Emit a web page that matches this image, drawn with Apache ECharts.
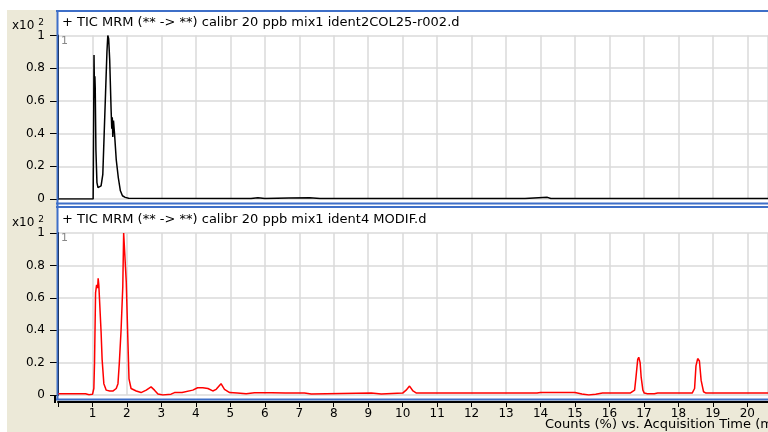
<!DOCTYPE html>
<html><head><meta charset="utf-8">
<script src="https://cdn.jsdelivr.net/npm/echarts@6/dist/echarts.min.js"></script>
<style>html,body{margin:0;padding:0;background:#fff}#c{width:768px;height:432px}</style>
</head><body><div id="c"></div>
<script>
// ---- data ----
const topTitle = "+ TIC MRM (** -> **) calibr 20 ppb mix1 ident2COL25-r002.d";
const bottomTitle = "+ TIC MRM (** -> **) calibr 20 ppb mix1 ident4 MODIF.d";
const xAxisTitle = "Counts (%) vs. Acquisition Time (min)";
const yTickLabels = ["0", "0.2", "0.4", "0.6", "0.8", "1"];

const topTimes = [0, 1.02, 1.035, 1.045, 1.06, 1.07, 1.08, 1.10, 1.13, 1.16, 1.2, 1.25, 1.30, 1.34, 1.38, 1.42, 1.445, 1.47, 1.50, 1.54, 1.56, 1.575, 1.59, 1.61, 1.64, 1.69, 1.75, 1.81, 1.87, 1.95, 2.05, 5.6, 5.8, 6.0, 6.7, 7.3, 7.6, 13.55, 13.6, 14.2, 14.3, 20.6];
const topValues = [0, 0.0, 0.5, 0.88, 0.62, 0.75, 0.68, 0.3, 0.1, 0.07, 0.07, 0.08, 0.15, 0.4, 0.65, 0.9, 1.0, 0.98, 0.85, 0.55, 0.43, 0.5, 0.38, 0.48, 0.4, 0.24, 0.13, 0.05, 0.02, 0.01, 0.004, 0.003, 0.008, 0.003, 0.006, 0.007, 0.003, 0.003, 0.01, 0.01, 0.003, 0.003];

const botTimes = [0, 0.8, 0.9, 1.0, 1.04, 1.06, 1.09, 1.12, 1.15, 1.165, 1.184, 1.20, 1.25, 1.28, 1.33, 1.40, 1.5, 1.6, 1.69, 1.74, 1.78, 1.83, 1.88, 1.905, 1.95, 1.98, 2.03, 2.06, 2.12, 2.27, 2.41, 2.56, 2.70, 2.80, 2.90, 3.04, 3.28, 3.38, 3.6, 3.91, 4.05, 4.2, 4.35, 4.49, 4.59, 4.73, 4.83, 4.98, 5.2, 5.46, 5.7, 6.2, 6.6, 7.15, 7.2, 7.35, 7.4, 9.09, 9.12, 9.38, 9.42, 10.0, 10.1, 10.2, 10.3, 10.4, 12.0, 13.0, 13.9, 14.0, 15.0, 15.2, 15.4, 15.6, 15.8, 16.6, 16.73, 16.77, 16.82, 16.85, 16.89, 16.92, 16.97, 17.01, 17.1, 17.3, 17.4, 18.4, 18.47, 18.51, 18.56, 18.61, 18.66, 18.73, 18.8, 20.6];
const botValues = [0.008, 0.008, 0.002, 0.004, 0.04, 0.2, 0.63, 0.68, 0.66, 0.72, 0.68, 0.68, 0.39, 0.22, 0.07, 0.03, 0.025, 0.025, 0.04, 0.07, 0.2, 0.4, 0.67, 1.0, 1.0, 0.7, 0.32, 0.1, 0.04, 0.025, 0.015, 0.03, 0.05, 0.03, 0.006, 0.0, 0.005, 0.015, 0.015, 0.03, 0.045, 0.045, 0.04, 0.025, 0.035, 0.07, 0.035, 0.015, 0.012, 0.008, 0.014, 0.014, 0.012, 0.012, 0.006, 0.006, 0.012, 0.012, 0.006, 0.006, 0.012, 0.012, 0.03, 0.055, 0.025, 0.012, 0.012, 0.012, 0.012, 0.016, 0.016, 0.006, 0.0, 0.005, 0.012, 0.012, 0.03, 0.11, 0.22, 0.233, 0.2, 0.11, 0.03, 0.012, 0.008, 0.008, 0.012, 0.012, 0.04, 0.18, 0.225, 0.21, 0.09, 0.02, 0.012, 0.012];

// ---- chart ----
const FONT = "DejaVu Sans";
const BEIGE = "#ECE9D8";
const BLUE = "#3E6FC8";
const GRIDC = "#dadada";
const pairs = (t, v) => t.map((x, i) => [x, v[i]]);

const chart = echarts.init(document.getElementById('c'), null, {renderer: 'canvas'});

function yAxis(gi) {
  return {
    type: 'value', gridIndex: gi, min: 0, max: 1, interval: 0.2, offset: 3,
    axisLine: {show: true, lineStyle: {color: '#000', width: 2}},
    axisTick: {show: true, length: 8, lineStyle: {color: '#000', width: 1}},
    axisLabel: {margin: 10, color: '#000', fontSize: 12, fontFamily: FONT,
      formatter: (v) => yTickLabels[Math.round(v * 5)]},
    splitLine: {show: true, lineStyle: {color: GRIDC, width: 1.5}}
  };
}
function xAxis(gi, labels) {
  return {
    type: 'value', gridIndex: gi, min: 0, max: 20.6, interval: 1,
    offset: labels ? 7 : 0,
    axisLine: {show: labels, onZero: false, lineStyle: {color: '#000', width: 2}},
    axisTick: {show: labels, length: 5, lineStyle: {color: '#000', width: 1}},
    axisLabel: {show: labels, color: '#000', fontSize: 12, fontFamily: FONT, margin: 6,
      showMaxLabel: false, formatter: (v) => (v === 0 ? '' : String(v))},
    splitLine: {show: true, lineStyle: {color: GRIDC, width: 1.5}}
  };
}

const x10 = (y) => ({
  type: 'text', left: 12, top: y, z: 20,
  style: {text: '{a|x10 }{b|2}', rich: {a: {fontSize: 12, fontFamily: FONT, fill: '#000'}, b: {fontSize: 9, fontFamily: FONT, fill: '#000', verticalAlign: 'top', padding: [0, 0, 6, 0]}}}
});

chart.setOption({
  backgroundColor: '#fff',
  animation: false,
  grid: [
    {left: 58, right: 0, top: 35.5, height: 163.5},
    {left: 58, right: 0, top: 233, height: 162}
  ],
  xAxis: [xAxis(0, false), xAxis(1, true)],
  yAxis: [yAxis(0), yAxis(1)],
  series: [
    {type: 'line', xAxisIndex: 0, yAxisIndex: 0, data: pairs(topTimes, topValues), showSymbol: false,
      lineStyle: {color: '#000', width: 1.5}, z: 3},
    {type: 'line', xAxisIndex: 1, yAxisIndex: 1, data: pairs(botTimes, botValues), showSymbol: false,
      lineStyle: {color: '#ff0000', width: 1.5}, z: 3}
  ],
  graphic: [
    {type: 'rect', shape: {x: 7, y: 10, width: 761, height: 422}, style: {fill: BEIGE}, z: -10, silent: true},
    {type: 'rect', shape: {x: 57, y: 11, width: 711, height: 389}, style: {fill: '#fff'}, z: -9, silent: true},
    {type: 'line', shape: {x1: 56, y1: 11, x2: 768, y2: 11}, style: {stroke: BLUE, lineWidth: 2}, z: 20},
    {type: 'line', shape: {x1: 57.5, y1: 11, x2: 57.5, y2: 400}, style: {stroke: BLUE, lineWidth: 2}, z: 19},
    {type: 'line', shape: {x1: 56, y1: 203.5, x2: 768, y2: 203.5}, style: {stroke: BLUE, lineWidth: 2}, z: 20},
    {type: 'line', shape: {x1: 56, y1: 207, x2: 768, y2: 207}, style: {stroke: BLUE, lineWidth: 2}, z: 20},
    {type: 'line', shape: {x1: 56, y1: 399.5, x2: 768, y2: 399.5}, style: {stroke: BLUE, lineWidth: 2}, z: 20},
    {type: 'line', shape: {x1: 55, y1: 395, x2: 55, y2: 403}, style: {stroke: '#000', lineWidth: 2}, z: 20},
    {type: 'text', left: 62, top: 16, z: 20, style: {text: topTitle, fontSize: 13, fontFamily: FONT, fill: '#000'}},
    {type: 'text', left: 62, top: 213, z: 20, style: {text: bottomTitle, fontSize: 13, fontFamily: FONT, fill: '#000'}},
    {type: 'text', left: 61, top: 36, z: 20, style: {text: '1', fontSize: 11, fontFamily: FONT, fill: '#888'}},
    {type: 'text', left: 61, top: 233, z: 20, style: {text: '1', fontSize: 11, fontFamily: FONT, fill: '#888'}},
    x10(18), x10(215),
    {type: 'text', left: 545, top: 418, z: 20, style: {text: xAxisTitle, fontSize: 13, fontFamily: FONT, fill: '#000'}}
  ]
});
</script></body></html>
